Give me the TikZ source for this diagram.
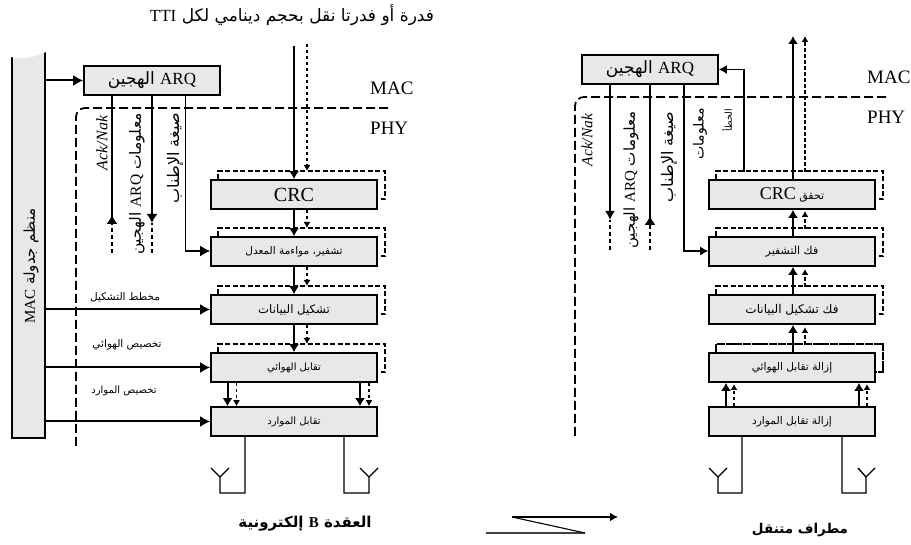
\documentclass[tikz,border=0pt]{standalone}
\usepackage{fontspec}
\setmainfont{Liberation Serif}
\newfontfamily\arabicfont[Script=Arabic]{DejaVu Sans}
\TeXXeTstate=1
\usetikzlibrary{arrows.meta,calc}
\newcommand{\arab}[1]{{\arabicfont\beginR #1\endR}}
\newcommand{\lat}[1]{\beginL{\rmfamily #1}\endL{}}
\newcommand{\fs}[1]{\fontsize{#1}{#1}\selectfont}
\newcommand{\backbox}[2][]{\draw[backline,#1] ($(#2.north west)+(8,0)$) -- ++(0,-8) -- ++(167,0) -- ++(0,28) -- ++(-9,0);}
\tikzset{
  x=1pt,y=-1pt,
  blockbox/.style={draw,fill=black!9,line width=1.6pt,minimum width=166pt,minimum height=29pt,inner sep=0pt,font=\fs{10.5}},
  arqbox/.style={blockbox,minimum width=136pt,font=\fs{17}},
  backline/.style={line width=1.7pt,dash pattern=on 5pt off 2.5pt},
  layerline/.style={line width=1.8pt,dash pattern=on 9pt off 4pt},
  mainarrow/.style={line width=2pt,-{Latex[length=8pt,width=10pt]}},
  subarrow/.style={line width=1.4pt,dash pattern=on 3.5pt off 2.5pt,-{Latex[length=6pt,width=7pt]}},
  sidearrow/.style={line width=2pt,-{Latex[length=10pt,width=11pt]}},
  thinarrow/.style={line width=1.4pt,-{Latex[length=8pt,width=9pt]}},
  thinline/.style={line width=1.5pt},
  dashtail/.style={line width=1.4pt,dash pattern=on 4pt off 3pt,-{Latex[length=9pt,width=11pt]}},
  plaintail/.style={line width=1.4pt,dash pattern=on 4pt off 3pt},
  antline/.style={line width=1.4pt},
  sidelabel/.style={inner sep=0pt,font=\fs{10.5}},
  vlabel/.style={rotate=90,inner sep=0pt,font=\fs{15.5}},
  layerlabel/.style={font=\fs{19},inner sep=0pt,anchor=west},
  titlelabel/.style={inner sep=0pt,font=\fs{15}\bfseries}
}
\begin{document}
\begin{tikzpicture}
\useasboundingbox (0,0) rectangle (911,545);
% ---------- left: eNode B
\node[inner sep=0pt,font=\fs{17}] (toplabel) at (292,15) {\arab{فدرة أو فدرتا نقل بحجم دينامي لكل \lat{TTI}}};
\node[draw,fill=black!9,line width=1.6pt,minimum width=33pt,minimum height=386pt,inner sep=0pt] (sched) at (28.5,245) {};
\fill[white] (9,48) -- (48,48) -- (48,52) -- (46,52) .. controls (36,57) and (22,60) .. (11,57) -- (9,57) -- cycle;
\node[vlabel,font=\fs{15}] (schedlabel) at (31,266) {\arab{منظم جدولة \lat{MAC}}};
\node[arqbox] (larq) at (152,80.5) {\arab{\lat{ARQ} الهجين}};
\node[blockbox,font=\fs{20}] (lcrc) at (294,194.5) {CRC};
\node[blockbox,font=\fs{10.5}] (lenc) at (294,251.5) {\arab{تشفير، مواءمة المعدل}};
\node[blockbox,font=\fs{11.7}] (lmod) at (294,309.5) {\arab{تشكيل البيانات}};
\node[blockbox,font=\fs{10}] (lant) at (294,367.5) {\arab{تقابل الهوائي}};
\node[blockbox,font=\fs{10}] (lres) at (294,421.5) {\arab{تقابل الموارد}};
\backbox{lcrc}\backbox{lenc}\backbox{lmod}\backbox{lant}
\coordinate (lcorner) at (76,108);
\coordinate (lend) at (388,108);
\coordinate (lbot) at (76,449);
\draw[layerline,rounded corners=9pt] (lend) -- (lcorner) -- (lbot);
\node[layerlabel] (lmac) at (370,88) {MAC};
\node[layerlabel] (lphy) at (370,128) {PHY};
\coordinate (ltopa) at (294,46);
\coordinate (ltopb) at (307,44);
\draw[mainarrow] (ltopa) -- (ltopa |- lcrc.north);
\draw[subarrow] (ltopb) -- (307,171);
\draw[mainarrow] (lcrc.south -| ltopa) -- (lenc.north -| ltopa);
\draw[subarrow] (lcrc.south -| ltopb) -- (307,228);
\draw[mainarrow] (lenc.south -| ltopa) -- (lmod.north -| ltopa);
\draw[subarrow] (lenc.south -| ltopb) -- (307,286);
\draw[mainarrow] (lmod.south -| ltopa) -- (lant.north -| ltopa);
\draw[subarrow] (lmod.south -| ltopb) -- (307,344);
\foreach \sx/\dx in {227.5/236.5,360/369}{
  \coordinate (a) at (\sx,0); \coordinate (b) at (\dx,0);
  \draw[mainarrow] (lant.south -| a) -- (lres.north -| a);
  \draw[subarrow] (lant.south -| b) -- (lres.north -| b);
}
\draw[sidearrow] (sched.east |- larq) -- (larq.west);
\draw[sidearrow] (sched.east |- lmod) -- (lmod.west);
\draw[sidearrow] (sched.east |- lant) -- (lant.west);
\draw[sidearrow] (sched.east |- lres) -- (lres.west);
\coordinate (lack) at (112,253);
\coordinate (linfo) at (152,253);
\coordinate (lfmt) at (185.5,251);
\draw[thinline] (larq.south -| lack) -- (112,217);
\draw[dashtail] (lack) -- (112,215);
\draw[plaintail] (linfo) -- (152,223);
\draw[line width=2pt,-{Latex[length=9pt,width=11pt]}] (larq.south -| linfo) -- (152,223);
\draw[line width=1.6pt,-{Latex[length=10pt,width=11pt]}] (larq.south -| lfmt) -- (lfmt) -- (lenc.west |- lfmt);
\node[vlabel,font=\fs{16}\itshape] (lacklabel) at (102,143) {Ack/Nak};
\node[vlabel] (linfolabel) at (137,184) {\arab{معلومات \lat{ARQ} الهجين}};
\node[vlabel,font=\fs{16}] (lfmtlabel) at (175,158) {\arab{صيغة الإطناب}};
\node[sidelabel] (lmodlabel) at (125,297) {\arab{مخطط التشكيل}};
\node[sidelabel] (lantlabel) at (127,345) {\arab{تخصيص الهوائي}};
\node[sidelabel,font=\fs{10}] (lreslabel) at (124,391) {\arab{تخصيص الموارد}};
\draw[antline] (lres.south -| 245,0) -- (245,493) -- (220,493) -- (220,477) -- (211,468);
\draw[antline] (220,477) -- (229,468);
\draw[antline] (lres.south -| 344,0) -- (344,493) -- (369,493) -- (369,477) -- (360,468);
\draw[antline] (369,477) -- (378,468);
\node[titlelabel] (ltitle) at (305,524) {\arab{العقدة \lat{B} إلكترونية}};
% ---------- right: UE
\node[arqbox] (rarq) at (650,69.5) {\arab{\lat{ARQ} الهجين}};
\node[blockbox,font=\fs{11}] (rcrc) at (792,194.5) {\arab{تحقق \lat{\fs{18}CRC}}};
\node[blockbox,font=\fs{11}] (rdec) at (792,251.5) {\arab{فك التشفير}};
\node[blockbox,font=\fs{12}] (rdem) at (792,309.5) {\arab{فك تشكيل البيانات}};
\node[blockbox,font=\fs{10.6}] (rant) at (792,367.5) {\arab{إزالة تقابل الهوائي}};
\node[blockbox,font=\fs{10.6}] (rres) at (792,421.5) {\arab{إزالة تقابل الموارد}};
\backbox{rcrc}\backbox{rdec}\backbox{rdem}\backbox[dash pattern=on 8pt off 0.7pt]{rant}
\coordinate (rcorner) at (575,97);
\coordinate (rend) at (886,97);
\coordinate (rbot) at (575,439);
\draw[layerline,rounded corners=9pt] (rend) -- (rcorner) -- (rbot);
\node[layerlabel] (rmac) at (867,77) {MAC};
\node[layerlabel] (rphy) at (867,117) {PHY};
\coordinate (rtopa) at (793,36);
\coordinate (rtopb) at (805,36);
\draw[mainarrow] (rcrc.north -| rtopa) -- (rtopa);
\draw[subarrow] (805,172) -- (rtopb);
\draw[mainarrow] (rdec.north -| rtopa) -- (rcrc.south -| rtopa);
\draw[subarrow] (805,229) -- (805,211);
\draw[mainarrow] (rdem.north -| rtopa) -- (rdec.south -| rtopa);
\draw[subarrow] (805,287) -- (805,269);
\draw[mainarrow] (rant.north -| rtopa) -- (rdem.south -| rtopa);
\draw[subarrow] (805,345) -- (805,327);
\foreach \sx/\dx in {726/734,859/867}{
  \coordinate (a) at (\sx,0); \coordinate (b) at (\dx,0);
  \draw[mainarrow] (rres.north -| a) -- (rant.south -| a);
  \draw[subarrow] (rres.north -| b) -- (\dx,384);
}
\coordinate (rerr) at (744,172);
\draw[thinarrow] (rerr) -- (rerr |- rarq) -- (rarq.east);
\coordinate (rack) at (610,250);
\coordinate (rfmt) at (650,250);
\coordinate (rinfo) at (684,251);
\draw[plaintail] (rack) -- (610,220);
\draw[line width=2pt,-{Latex[length=9pt,width=10pt]}] (rarq.south -| rack) -- (610,220);
\draw[thinline] (rarq.south -| rfmt) -- (650,218);
\draw[dashtail] (rfmt) -- (650,216);
\draw[line width=1.4pt,-{Latex[length=8pt,width=9pt]}] (rarq.south -| rinfo) -- (rinfo) -- (rdec.west |- rinfo);
\node[vlabel,font=\fs{15.5}\itshape] (racklabel) at (587,140) {Ack/Nak};
\node[vlabel,font=\fs{15}] (rinfolabel) at (631,180) {\arab{معلومات \lat{ARQ} الهجين}};
\node[vlabel,font=\fs{16}] (rfmtlabel) at (669,157) {\arab{صيغة الإطناب}};
\node[vlabel,font=\fs{14}] (rerrlabela) at (700,134) {\arab{معلومات}};
\node[vlabel,font=\fs{9.5}] (rerrlabelb) at (727,120) {\arab{الخطأ}};
\draw[antline] (rres.south -| 742,0) -- (742,493) -- (718,493) -- (718,477) -- (709,468);
\draw[antline] (718,477) -- (727,468);
\draw[antline] (rres.south -| 842,0) -- (842,493) -- (866,493) -- (866,477) -- (858,468);
\draw[antline] (866,477) -- (875,468);
\node[titlelabel,font=\fs{13.5}\bfseries] (rtitle) at (800,530) {\arab{مطراف متنقل}};
% ---------- radio link
\coordinate (ra) at (486,533);
\coordinate (rb) at (585,533);
\coordinate (rc) at (512,517);
\coordinate (rd) at (618,517);
\draw[line width=1.2pt,black!75] (ra) -- (rb);
\draw[line width=1.1pt] (rb) -- (rc);
\draw[line width=1.8pt,-{Latex[length=8pt,width=9pt]}] (rc) -- (rd);
\end{tikzpicture}
\end{document}
